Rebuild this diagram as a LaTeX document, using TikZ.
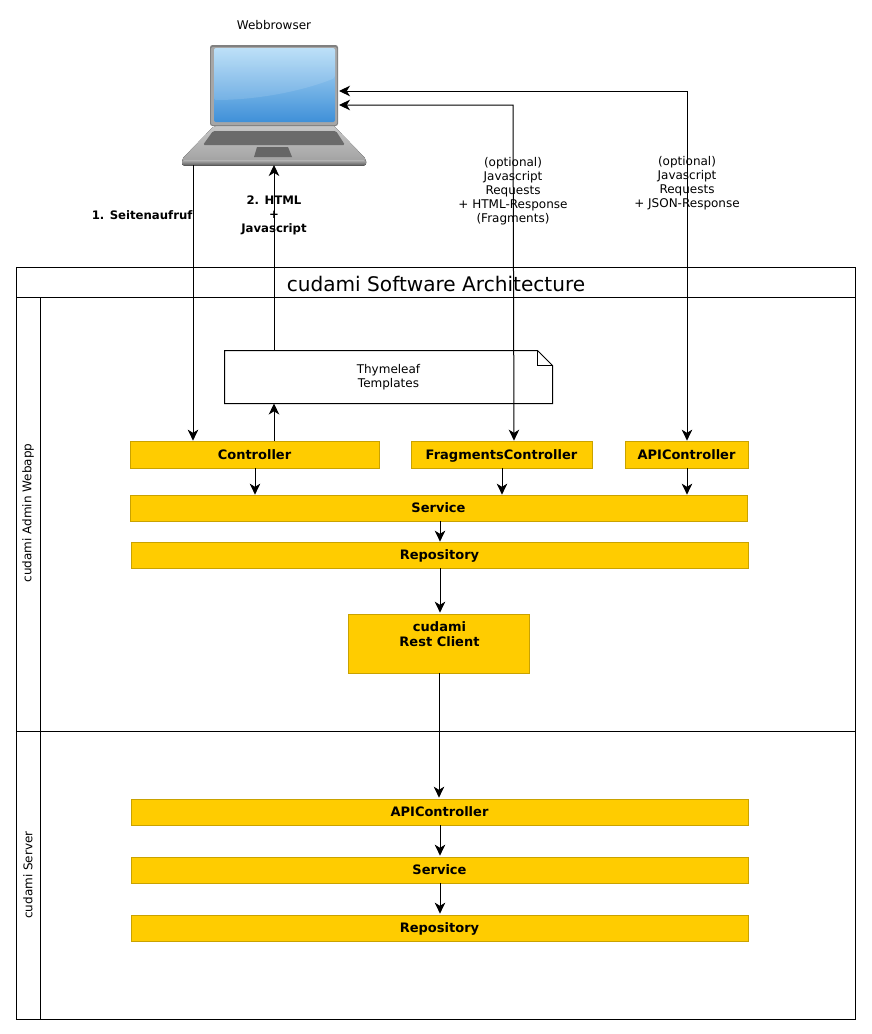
\documentclass[tikz,border=0pt]{standalone}
\usepackage{xcolor}
\usepackage{fontspec}
\setmainfont{DejaVu Sans}
\usetikzlibrary{arrows.meta,calc}
\definecolor{boxfill}{HTML}{FFCC00}
\definecolor{boxline}{HTML}{C9A200}
\definecolor{screentop}{HTML}{B4DCF7}
\definecolor{screenlow}{HTML}{3F90D8}
\begin{document}
\begin{tikzpicture}[
    x=1pt, y=-1pt,
    line width=1pt,
    >={Stealth[inset=3.2pt,length=11pt,width=10.5pt]},
    layer/.style={draw=boxline, line width=0.7pt, fill=boxfill, inner sep=0pt, text height=12.5pt, text depth=2.8pt, font=\fontsize{13}{17}\selectfont\bfseries},
    lane/.style={draw, inner sep=0pt},
    caption/.style={align=center, inner sep=0pt, font=\fontsize{12}{14}\selectfont},
    strong/.style={align=center, inner sep=0pt, font=\fontsize{11.7}{14}\selectfont\bfseries},
]
    \useasboundingbox (0,0) rectangle (871,1034);

    % Swimlanes
    \node[lane, minimum width=839, minimum height=30] (title) at (436,282) {};
    \node[inner sep=0pt, font=\fontsize{20.1}{24}\selectfont] (titletext) at (436,284) {cudami Software Architecture};
    \node[lane, minimum width=839, minimum height=434] (webapp) at (436,514) {};
    \node[lane, minimum width=839, minimum height=288] (server) at (436,875) {};
    \node[lane, minimum width=24, minimum height=434] (webapphead) at (28.5,514) {};
    \node[lane, minimum width=24, minimum height=288] (serverhead) at (28.5,875) {};
    \node[caption, rotate=90] (webapplabel) at (28,513) {cudami Admin Webapp};
    \node[caption, rotate=90] (serverlabel) at (28,875) {cudami Server};

    % Laptop
    \node[caption] (browserlabel) at (274,25) {Webbrowser};
    \fill[top color=black!22, bottom color=black!38] (214,126) -- (334,126) [rounded corners=2pt] -- (366,159) -- (366,165) -- (182,165) -- (182,159) -- cycle;
    \fill[top color=black!30, bottom color=black!65, rounded corners=2pt] (182,160) rectangle (366,165.5);
    \fill[black!58, rounded corners=1.5pt] (213,131) -- (336,131) -- (345,145) -- (203,145) -- cycle;
    \fill[black!60] (257,147) -- (288,147) -- (292,157) -- (254,157) -- cycle;
    \fill[black!50, rounded corners=2.5pt] (210,45) rectangle (338,126);
    \fill[black!35, rounded corners=2pt] (211,47) rectangle (337,125);
    \node[inner sep=0pt, minimum width=121, minimum height=74, rounded corners=2pt, top color=screentop, bottom color=screenlow] (screen) at (274.5,85) {};
    \fill[white, opacity=0.12, rounded corners=2pt] (214,48) -- (335,48) -- (335,78) .. controls (300,92) and (255,100) .. (214,100) -- cycle;
    \node[inner sep=0pt, minimum width=184, minimum height=120] (laptop) at (274,105) {};
    \coordinate (first) at (193,165);
    \coordinate (second) at (274,165);
    \coordinate (fragin) at (339,105);
    \coordinate (fragcorner) at (513,105);
    \coordinate (apiin) at (339,91);
    \coordinate (apicorner) at (687,91);

    % Thymeleaf note
    \node[inner sep=0pt, minimum width=327, minimum height=52, align=center, font=\fontsize{12}{13.5}\selectfont] (templates) at (388.5,377) {Thymeleaf\\Templates};
    \draw (templates.north west) -- ($(templates.north east)+(-15,0)$) -- ($(templates.north east)+(0,15)$) -- (templates.south east) -- (templates.south west) -- cycle;
    \draw ($(templates.north east)+(-15,0)$) -- ($(templates.north east)+(-15,15)$) -- ($(templates.north east)+(0,15)$);

    % Webapp layers
    \node[layer, minimum width=249, minimum height=27] (controller) at (254.5,454.5) {Controller};
    \node[layer, minimum width=181, minimum height=27] (fragments) at (501.5,454.5) {FragmentsController};
    \node[layer, minimum width=123, minimum height=27] (apictrl) at (686.5,454.5) {APIController};
    \node[layer, minimum width=617, minimum height=26] (service) at (438.5,508) {Service};
    \node[layer, minimum width=617, minimum height=26] (repository) at (439.5,555) {Repository};
    \node[layer, minimum width=181, minimum height=59] (client) at (438.5,643.5) {};
    \node[inner sep=0pt, align=center, font=\fontsize{13}{15}\selectfont\bfseries] (clienttext) at (439.5,634) {cudami\\Rest Client};

    % Server layers
    \node[layer, minimum width=617, minimum height=26] (serverapi) at (439.5,812) {APIController};
    \node[layer, minimum width=617, minimum height=26] (serverservice) at (439.5,870) {Service};
    \node[layer, minimum width=617, minimum height=26] (serverrepo) at (439.5,928) {Repository};

    % Arrows to and from the browser
    \draw[->] (first) -- (first |- controller.north);
    \draw[->] (templates.north -| second) -- (second);
    \draw[->] (controller.north -| second) -- (templates.south -| second);
    \draw[<->] (fragin) -- (fragcorner) -- ($(fragments.north -| fragcorner)+(1,0)$);
    \draw[<->] (apiin) -- (apicorner) -- (apictrl.north -| apicorner);

    % Arrows between layers
    \draw[->] (controller.south -| 255,0) -- (service.north -| 255,0);
    \draw[->] (fragments.south -| 502,0) -- (service.north -| 502,0);
    \draw[->] (apictrl.south -| 687,0) -- (service.north -| 687,0);
    \draw[->] (service.south -| 440,0) -- (repository.north -| 440,0);
    \draw[->] (repository.south -| 440,0) -- ($(client.north -| 440,0)+(0,-1)$);
    \draw[->] (client.south -| 439,0) -- ($(serverapi.north -| 439,0)+(0,-1)$);
    \draw[->] (serverapi.south -| 440,0) -- ($(serverservice.north -| 440,0)+(0,-1)$);
    \draw[->] (serverservice.south -| 440,0) -- ($(serverrepo.north -| 440,0)+(0,-1)$);

    % Labels
    \node[strong, anchor=east] (firstlabel) at (193,215) {1. Seitenaufruf};
    \node[strong] (secondlabel) at (274,215.5) {2. HTML\\+\\Javascript};
    \node[caption] (fraglabel) at (513,191.5) {(optional)\\Javascript\\Requests\\+ HTML-Response\\(Fragments)};
    \node[caption] (apilabel) at (687,183.5) {(optional)\\Javascript\\Requests\\+ JSON-Response};
\end{tikzpicture}
\end{document}
